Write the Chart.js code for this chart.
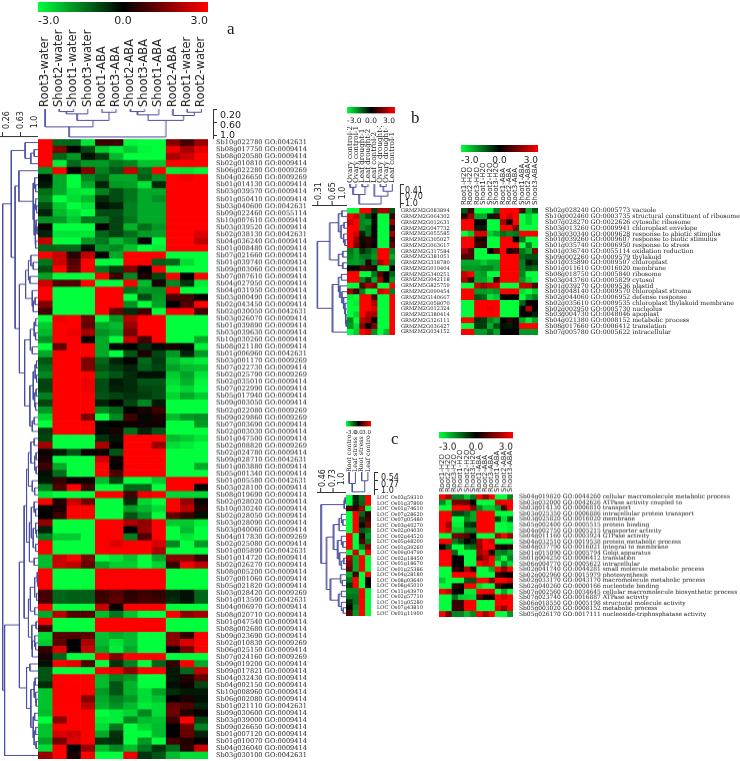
<!DOCTYPE html>
<html lang="en">
<head>
<meta charset="UTF-8">
<title>Heat maps a b c</title>
<script src="https://cdn.jsdelivr.net/npm/chart.js"></script>
<style>
    body { margin: 0; background: #fff; }
    #page { position: relative; width: 740px; height: 761px; overflow: hidden; }
    #page canvas { position: absolute; }
    .note { position: absolute; color: #222; white-space: nowrap; line-height: 1; }
</style>
</head>
<body>
<div id="page"></div>
<script>
const SANS = '"DejaVu Sans", sans-serif';
const SERIF = '"DejaVu Serif", serif';

// panel a
const aCols = ['Root3-water','Shoot2-water','Shoot1-water','Shoot3-water','Root1-ABA','Root3-ABA','Shoot2-ABA','Shoot3-ABA','Shoot1-ABA','Root2-ABA','Root1-water','Root2-water'];
const aGenes = ['Sb10g022780 GO:0042631','Sb08g017750 GO:0009414','Sb08g020580 GO:0009414','Sb02g010810 GO:0009414','Sb06g022280 GO:0009269','Sb04g026650 GO:0009269','Sb01g014130 GO:0009414','Sb03g039570 GO:0009414','Sb01g050410 GO:0009414','Sb03g040600 GO:0042631','Sb09g022460 GO:0055114','Sb10g007610 GO:0009414','Sb03g039520 GO:0009414','Sb02g038130 GO:0042631','Sb04g036240 GO:0009414','Sb01g008480 GO:0009414','Sb07g021660 GO:0009414','Sb01g039740 GO:0009414','Sb09g003060 GO:0009414','Sb07g007610 GO:0009414','Sb04g027950 GO:0009414','Sb04g031950 GO:0009414','Sb03g000490 GO:0009414','Sb02g043450 GO:0009414','Sb02g030050 GO:0042631','Sb03g026070 GO:0009414','Sb01g039890 GO:0009414','Sb03g039630 GO:0009414','Sb10g030260 GO:0009414','Sb08g021180 GO:0009414','Sb01g006960 GO:0042631','Sb03g001170 GO:0009269','Sb07g022730 GO:0009414','Sb02g025790 GO:0009269','Sb02g035010 GO:0009414','Sb07g022990 GO:0009414','Sb05g017940 GO:0009414','Sb09g003050 GO:0009414','Sb02g022080 GO:0009269','Sb09g029860 GO:0009269','Sb07g003690 GO:0009414','Sb02g003030 GO:0009414','Sb01g047500 GO:0009414','Sb02g008820 GO:0009269','Sb02g024780 GO:0009414','Sb09g028710 GO:0042631','Sb01g003880 GO:0009414','Sb05g001340 GO:0009414','Sb01g005580 GO:0042631','Sb03g028100 GO:0009414','Sb08g019690 GO:0009414','Sb02g028020 GO:0009414','Sb10g030240 GO:0009414','Sb02g028050 GO:0009414','Sb03g028090 GO:0009414','Sb03g040060 GO:0009414','Sb04g017830 GO:0009269','Sb02g025080 GO:0009414','Sb01g005890 GO:0042631','Sb01g014720 GO:0009414','Sb02g026270 GO:0009414','Sb08g005200 GO:0009414','Sb07g001060 GO:0009414','Sb05g021820 GO:0009414','Sb03g028420 GO:0009269','Sb01g013590 GO:0042631','Sb04g006970 GO:0009414','Sb08g020710 GO:0009414','Sb01g047540 GO:0009414','Sb08g002680 GO:0009414','Sb09g023690 GO:0009414','Sb02g010830 GO:0009269','Sb06g025150 GO:0009414','Sb07g024160 GO:0009269','Sb09g019200 GO:0009414','Sb09g017821 GO:0009414','Sb04g032430 GO:0009414','Sb04g002150 GO:0009414','Sb10g008960 GO:0009414','Sb06g002080 GO:0009414','Sb01g021110 GO:0042631','Sb09g030600 GO:0009414','Sb03g039000 GO:0009414','Sb09g026650 GO:0009414','Sb01g007120 GO:0009414','Sb01g010070 GO:0009414','Sb04g036040 GO:0009414','Sb03g030100 GO:0042631'];
const aRows = [
[3,-1.2,-1.2,-2.7,.7,.7,-2.9,-3,-3,1.5,.8,1.8],
[3,1.5,0,-.8,-2.4,-2.8,-2.4,-2.9,-3,2.8,2,2.7],
[3,-1.2,-1.8,-.2,-.7,-2.2,-3,-3,-3,2,2.4,3],
[3,-2.8,-1.2,-1.8,-1.8,-1.4,-1.6,-2.3,-2.3,3,3,3],
[-1.7,3,0,1.5,-1.5,-1,2.3,-1.3,3,-2.8,-2.7,-2.9],
[-.1,-2,-3,-1.6,-1.2,-2,-2,-1.1,-1.7,3,2.8,3],
[-.3,-2,-3,-2,-.4,-1.8,-1.9,-2.7,-.5,3,3,3],
[-1.3,-2,-2.7,-2.8,-1.5,-.9,-1.4,-2,-2,3,3,3],
[-1.5,-3,-2.6,-2.2,-.5,-.9,-1.4,-2,-1.7,3,3,3],
[-.9,-2.4,-3,-2.7,-.2,-.4,-1.5,-2,-2,3,3,3],
[-.4,-2.2,-2.6,-3,-.9,-.9,-1.5,-2,-2,3,3,3],
[-1.7,-1.8,-2.4,-1.4,-1.4,-.8,-1.4,-2,-2,3,3,3],
[.1,-3,-3,-3,0,-.8,-2.1,-1.3,-1.8,3,3,3],
[-.4,-2.7,-2.7,-2.7,-1.2,-.8,-1.3,-1.8,-1.9,3,3,2.6],
[2.3,-3,-3,-1.8,-1.4,-2.2,-1.7,0,-3,3,3,2.2],
[-1.2,-1.2,-1.2,-.2,-1.8,-1.6,-2.3,-3,-2.8,3,3,3],
[3,2.4,.5,2.2,0,-2,3,3,3,-3,-3,-3],
[-1.4,2.4,1,3,-3,-3,3,3,-1.1,-1.2,-2.6,-3],
[-.9,3,1.2,3,-1.4,-.7,1.5,0,3,-3,-3,-3],
[-1.9,-3,-3,-3,3,.7,-1.6,.4,-.8,3,0,3],
[2.4,1,1,3,-3,-3,3,-2.2,.3,-1.6,-.6,-2.8],
[3,-3,-3,-3,3,3,-1.3,-1.8,-1.7,3,-3,-3],
[3,-3,-3,-3,3,3,-3,-.9,-1.8,.9,.8,0],
[1.5,-3,-3,-3,3,3,-1.7,-3,-1.9,0,.9,3],
[.8,-3,-3,-3,3,1.2,-.5,.7,-3,3,3,.8],
[-3,2.8,3,1.3,-3,-1.8,2.2,3,3,-3,-3,-3],
[-2.4,3,3,1.2,-2,-2.2,1.8,3,3,-3,-3,-3],
[-2.2,3,2.8,2,-1.7,-2,1.4,3,3,-3,-3,-3],
[-1.7,3,3,.1,-2,-3,2.4,.8,3,-3,-3,-2],
[-3,1.2,3,3,-2,-.1,0,-.5,-.1,.3,-.1,-2.8],
[-2,3,3,3,-2,-3,-1,.4,-.8,-1.8,-.4,-1.8],
[-1,3,3,1.5,-1.2,-.4,0,-1.2,-.7,-2.2,-2.6,-2.8],
[-1.3,3,3,1.5,-1,-.7,-.4,-1.1,-.8,-1.9,-2.2,-2.3],
[-1.6,3,3,3,-1.3,-1,-.5,-.2,-.2,-2.4,-1.9,-2.7],
[-.8,3,3,2.8,-.9,-.3,-.5,-1,-1,-2.6,-2.1,-2.9],
[-.8,3,3,2.8,-.9,-.4,-.5,-.8,-.9,-2.8,-2.5,-3],
[-1.5,3,3,3,-1,-.8,-.6,-.7,-.9,-2.5,-2,-2.4],
[-.8,3,3,3,-.4,0,-.8,-1.6,-.3,-3,-3,-3],
[-1.8,3,3,3,-1.6,-1.2,0,.3,.7,-3,-3,-3],
[-2.5,3,3,1.5,-3,-1.6,.7,-.1,.3,-2.2,-1.8,-1.7],
[-3,3,3,3,-.1,0,.2,.2,.2,-3,-3,-1.8],
[-.7,3,3,3,-.1,.3,-1.3,-.4,-1,-3,-3,-3],
[-.8,-3,-3,-3,-.6,-.2,3,3,3,-2.2,-2.4,-2.7],
[1.9,-3,-3,-3,2,0,3,3,1.8,-2.6,-2.8,-3],
[.1,-.3,-1,.2,.1,-1,3,3,3,-3,-3,-3],
[.3,-3,-3,-3,2.5,.2,3,3,3,-3,-3,-3],
[.7,-2,-3,-3,3,0,3,3,3,-3,-3,-2],
[-.2,-1.3,-3,-3,3,.9,3,3,3,-3,-3,-3],
[-.3,.6,0,.2,-2.2,-.8,-3,-3,-2.4,3,3,3],
[-1.5,.9,3,.8,-3,-3,-1.2,-1.2,-3,3,3,0],
[-2.7,-3,-3,-3,3,3,.8,2.8,3,-2.5,-2.5,-2.5],
[3,.4,2.4,1.4,-3,-3,-.5,-2.5,-3,3,1.8,.2],
[-.1,.3,3,3,-3,-3,-1.8,-2.2,-2.6,3,2.2,.4],
[0,.7,3,3,-3,-3,-1,-1.7,-3,1.2,.7,-.2],
[1.7,-3,-3,-3,3,3,2,1.7,3,-2.4,-2.4,-2.8],
[-.4,-3,-3,-3,3,3,0,1.8,3,-3,-2.2,-3],
[-1.5,-2.4,-2.4,-3,3,3,-1.5,.9,3,-3,-2.7,-3],
[3,-3,-3,-3,3,2.6,3,3,2.5,-1.6,-3,-1.8],
[3,-3,-3,-3,3,3,3,3,2,-3,-3,-3],
[-2.2,2.4,3,1.5,-3,-2.7,-2.3,-3,-2,1.6,1.6,.7],
[-2.2,2.4,2.2,1.2,-2,-2.4,-2.4,-3,-2.5,.7,2.8,2.2],
[3,-3,-3,-3,3,3,3,3,3,-3,-3,-3],
[3,-3,-3,-3,3,3,3,3,3,-3,-3,-3],
[3,-3,-3,-3,3,3,3,3,3,-3,-3,-3],
[.8,-1.2,-1.1,-1.1,.7,1,.5,.7,.6,-.4,-.2,-1.2],
[.8,-1.2,-1.1,-1.1,.7,1.1,.6,.8,.7,-.5,-.2,-1.2],
[3,-3,-3,-3,2.3,.1,3,3,3,-3,-3,-3],
[-2,2.2,1,1,-2.2,-1.4,-2.3,-3,-3,3,1.7,2],
[3,-3,-3,-3,3,3,3,3,3,-3,-3,-3],
[.8,-3,-3,-3,3,3,3,3,3,-3,-3,-3],
[-2.6,1,1,1.1,-2.3,-2,-2.2,-3,-3,1.6,.6,3],
[-2.4,1.1,0,2,-2.2,-2.7,-2.2,-3,-3,1.6,2.6,3],
[.6,2.6,0,2.3,-2,-2.8,-2,-3,-3,.2,1.4,3],
[.3,-1.2,-3,-3,3,1.5,3,3,3,-3,-3,-3],
[-.2,3,2.7,1,-3,-.6,-1.5,-3,-1.2,.6,3,-2],
[-1,-3,-3,-3,3,2.7,1.7,3,3,-.3,-1.2,2.3],
[-1,3,3,3,-2.2,-1.5,-1.8,-3,-3,-.3,.4,1.2],
[-.5,3,3,3,-2.2,-1,-2.1,-3,-3,-.2,.2,-.8],
[-2.3,3,3,3,-1.8,-1,-2.1,-2.6,-1.9,-.5,-.3,-.3],
[-2.3,3,3,1.6,-2,-1.5,-1.8,-2.6,-2.3,0,.3,-.2],
[-2.3,3,3,2.2,-2.1,-1.7,-2.2,-2.8,-2.6,1.2,.9,-.4],
[-2.2,3,3,3,-3,-2.8,-2.5,-1.6,-2.6,1.3,.4,0],
[-3,1.6,3,3,-2.8,-2.8,-1.6,-2.2,-2.3,.7,3,-.8],
[-2.3,3,3,3,-2.6,-1.4,-3,-2.5,-2.2,0,1.3,-1.5],
[-2.3,2.6,2.4,3,-2,-.6,-3,-3,-2.2,0,1.2,-.4],
[-1.9,1.4,2.6,3,-.6,-.5,-3,-1.8,-3,.8,.4,0],
[-2.6,3,0,1.8,-2.2,-1.6,-2.2,-1.4,-.6,-1.3,.5,2.4],
[1.8,3,.3,3,-3,-3,2.8,-.6,-1,-2.2,-2.6,-2.6]
];
// trees: [similarity, upper branch, lower branch], 0 is a leaf
const aTop = [.14,[.45,0,[.65,[.85,[.92,0,0],0],[.9,0,0]]],[.65,[.82,[.92,0,0],0],[.8,0,[.9,0,0]]]];
const aSide = [.26,
  [.44,[.73,0,[.85,[.92,0,0],0]],
    [.52,[.6,0,[.9,[.93,0,[.95,0,0]],[.92,[.95,0,[.97,0,0]],[.94,[.96,0,[.98,0,0]],[.95,0,0]]]]],
      [.61,[.74,[.8,[.85,0,[.9,0,0]],[.83,0,0]],[.88,0,[.9,[.94,0,0],0]]],
        [.72,[.84,[.92,[.95,0,0],[.95,0,0]],[.88,0,0]],
          [.83,[.9,[.94,[.97,0,0],[.97,0,0]],[.93,[.96,0,0],[.95,0,0]]],[.88,[.92,0,0],0]]]]]],
  [.3,[.61,
      [.71,[.76,[.8,[.85,[.92,0,0],[.93,[.96,0,0],[.96,0,0]]],[.88,0,[.93,0,0]]],
          [.82,[.86,[.92,0,[.95,0,0]],[.9,[.95,0,[.97,0,0]],[.95,0,0]]],[.92,0,0]]],
        [.8,[.84,[.93,[.98,0,[.99,0,0]],[.97,0,0]],[.93,0,0]],[.87,[.96,0,0],[.88,[.93,0,[.95,0,0]],0]]]],
      [.76,[.83,0,0],[.85,[.92,[.94,0,0],[.95,0,[.96,0,0]]],[.9,[.93,0,0],[.92,[.95,0,0],[.96,0,0]]]]]],0]];

// panel b
const bLeftCols = ['Ovary control-2','Ovary control-1','Leaf drought-1','Leaf drought-2','Leaf control-2','Ovary drought-2','Ovary drought-1','Leaf control-1'];
const bGenes = ['GRMZM2G083894','GRMZM2G064302','GRMZM2G012631','GRMZM2G047732','GRMZM2G055585','GRMZM2G305027','GRMZM2G063617','GRMZM2G317584','GRMZM2G381051','GRMZM2G318780','GRMZM2G019404','GRMZM2G340251','GRMZM2G042118','GRMZM5G825759','GRMZM2G099454','GRMZM2G140667','GRMZM2G058070','GRMZM2G012324','GRMZM2G380414','GRMZM2G326111','GRMZM2G036427','GRMZM2G034152'];
const bLeftRows = [
[-3,-3,3,3,-.7,2,2,-1],
[3,2.5,-1.6,-.9,0,-3,-3,.6],
[2.4,3,-1.6,-1.8,-.1,-3,-3,1.8],
[3,3,-1.6,-1.3,0,-3,-3,.3],
[3,2.5,-.4,-1.3,0,-3,-3,1.8],
[3,1.8,-.2,.6,.2,-3,-3,.6],
[3,1.5,.1,.5,0,-3,-3,1.2],
[-1.4,-1.9,-.5,-1,-1.6,3,3,-1.5],
[-1.6,-1.9,-1.4,-1.3,-1.8,3,3,-2],
[-1.8,-1.9,-1.6,.3,-1.4,2,2.8,-1.5],
[0,.2,.9,.8,.3,-3,-3,0],
[3,3,-3,-3,-1.4,1,0,-1.2],
[3,3,-1.5,-.6,-2,1.8,0,-1.8],
[-3,-3,1,2,1.5,-3,-3,3],
[1.8,.8,-1.5,-3,-3,2.4,3,-1.5],
[-2.8,-3,3,3,.8,-3,-3,3],
[-3,-2.8,3,3,2,-3,-3,3],
[-3,-3,3,3,2.5,-3,-3,3],
[-3,-2.5,3,2,2,-3,-3,3],
[-1.6,-3,2.2,1.8,.2,-3,-3,3],
[-1.8,-2.6,1.6,0,1.5,-3,-3,3],
[-3,-2.4,3,2.5,-1.7,-3,-2.2,3]
];
const bTop = [.39,[.68,[.9,0,0],[.92,0,0]],[.63,0,[.78,[.92,0,0],0]]];
const bSide = [.31,
  [.6,[.8,[.88,0,0],[.86,[.93,0,0],[.92,0,[.95,0,0]]]],[.8,[.9,0,0],[.9,0,0]]],
  [.66,[.8,[.87,0,0],[.83,0,[.88,0,[.92,0,[.95,0,[.96,0,[.97,0,[.98,0,0]]]]]]]],0]];
const rightCols = ['Root1-H2O','Root2-H2O','Root3-H2O','Shoot1-H2O','Shoot2-H2O','Shoot3-H2O','Root1-ABA','Root2-ABA','Root3-ABA','Shoot1-ABA','Shoot2-ABA','Shoot3-ABA'];
const bTerms = ['Sb02g028240 GO:0005773 vacuole','Sb10g002460 GO:0003735 structural constituent of ribosome','Sb07g028270 GO:0022626 cytosolic ribosome','Sb03g013260 GO:0009941 chloroplast envelope','Sb03g030340 GO:0009628 response to abiotic stimulus','Sb01g039260 GO:0009607 response to biotic stimulus','Sb01g035740 GO:0006950 response to stress','Sb01g036740 GO:0055114 oxidation reduction','Sb09g002260 GO:0009579 thylakoid','Sb01g035890 GO:0009507 chloroplast','Sb01g011610 GO:0016020 membrane','Sb08g018750 GO:0005840 ribosome','Sb03g043760 GO:0005829 cytosol','Sb01g039270 GO:0009536 plastid','Sb01g048140 GO:0009570 chloroplast stroma','Sb02g044060 GO:0006952 defense response','Sb02g035610 GO:0009535 chloroplast thylakoid membrane','Sb02g002950 GO:0005730 nucleolus','Sb03g004730 GO:0048046 apoplast','Sb04g021380 GO:0008152 metabolic process','Sb08g017660 GO:0006412 translation','Sb07g005780 GO:0005622 intracellular'];
const bRightRows = [
[-1,.7,-3,-3,-3,-1.4,3,3,3,.8,-2,-1],
[.5,1.8,-2,-2,-.3,.7,3,2.5,3,-3,-2.5,-3],
[3,3,0,0,-3,-3,2,.2,3,-3,-2.5,-3],
[3,3,-.3,-.3,-3,-3,3,3,1.5,-3,-3,-3],
[-3,-2.4,2.6,2.6,-2.4,-2,-1.3,-1.6,-1.4,3,3,3],
[3,3,.4,.3,-3,-3,3,3,0,-1.4,-3,-3],
[3,3,.7,.6,-3,-3,3,3,3,-3,-1.5,-3],
[2,1,-3,-3,0,1.2,3,.3,.8,-1.4,-2,1.5],
[1,1,-3,-3,-3,-3,3,3,3,-1.2,-1,-1],
[-2,-2,-2,-2.4,-2,-2,3,3,3,-1.5,-.2,-.6],
[-1.8,-1.8,-1.8,-1.6,-1.6,-2,3,3,3,-1.5,-1,-1.2],
[2.4,3,-2,-1.8,-3,-3,3,3,3,-1.5,-3,-3],
[2,.8,-2,-2,-2.6,.9,3,3,3,-1.8,-2.6,-3],
[-3,-3,2.4,1.8,2.4,2.6,-3,-3,-3,2.4,2.2,1],
[3,3,-1.8,-1.8,-2,-1.8,3,3,3,-2.6,-3,-2.4],
[3,3,-1,-1.2,-2.7,-2.4,0,0,0,-3,-2,-1.5],
[-3,-3,3,3,3,3,-3,-3,-3,-1.2,0,0],
[-3,-3,3,3,2.8,3,-3,-3,-3,0,2,0],
[-3,-3,3,3,3,3,-3,-3,-3,0,0,-.4],
[3,3,-.6,-.7,-1.6,-2,0,.6,.2,-2,-2.8,-2],
[-3,-3,-.7,-.7,-2,-1,-.2,-.3,-.1,3,3,3],
[3,3,-1.8,-1.8,-1.2,-2,0,0,0,-1.8,-1.8,-1.8]
];

// panel c
const cLeftCols = ['Root control','Leaf stress','Root stress','Leaf control'];
const cGenes = ['LOC_Os03g59310','LOC_Os01g37800','LOC_Os01g74610','LOC_Os07g28620','LOC_Os07g05480','LOC_Os03g40270','LOC_Os02g04030','LOC_Os02g44520','LOC_Os05g48200','LOC_Os01g39260','LOC_Os09g04790','LOC_Os02g18450','LOC_Os01g18670','LOC_Os01g25386','LOC_Os04g28180','LOC_Os08g03640','LOC_Os08g45010','LOC_Os11g43970','LOC_Os02g57710','LOC_Os11g05280','LOC_Os07g43810','LOC_Os01g11900'];
const cLeftRows = [
[-3,-.4,-1.3,3],[-3,-.4,-1.2,3],[.9,.5,1.8,-3],[-3,3,-1.2,.5],[-3,3,-.6,.9],[-3,3,-.2,1.4],[-3,3,-1,-1.4],
[3,-3,.4,-1.8],[3,-3,1,-1.4],[3,-3,-1.5,1.5],[-3,2.5,-3,3],[2,-2,3,-3],[1.5,-2,3,-3],[1.2,-2,3,-3],
[-2,.8,-3,3],[-1.4,3,-3,0],[-.7,3,-3,0],[-1.6,-1.6,3,-3],[-1.4,-1.4,3,-3],[-.5,-1.3,3,-3],[.1,-1.6,3,-3],[1,-1.8,3,-3]
];
const cTop = [.48,[.7,0,0],[.77,0,0]];
const cSide = [.46,[.96,[.98,0,0],0],
  [.58,[.73,[.85,[.9,0,[.93,0,0]],0],[.82,[.9,0,[.93,0,0]],[.86,0,[.9,[.95,0,0],0]]]],
    [.66,[.88,0,[.92,0,0]],[.84,[.9,0,0],[.9,0,[.94,0,0]]]]]];
const cTerms = ['Sb04g019820 GO:0044260 cellular macromolecule metabolic process','Sb03g032000 GO:0042626 ATPase activity coupled to','Sb03g014130 GO:0006810 transport','Sb03g025350 GO:0006886 intracellular protein transport','Sb03g025820 GO:0016020 membrane','Sb05g002400 GO:0005515 protein binding','Sb04g002750 GO:0005215 transporter activity','Sb04g011160 GO:0003924 GTPase activity','Sb04g032510 GO:0019538 protein metabolic process','Sb04g037790 GO:0016021 integral to membrane','Sb01g015090 GO:0005794 Golgi apparatus','Sb01g004250 GO:0006412 translation','Sb06g004770 GO:0005622 intracellular','Sb02g041740 GO:0044281 small molecule metabolic process','Sb02g002960 GO:0015979 photosynthesis','Sb02g033170 GO:0043170 macromolecule metabolic process','Sb02g040260 GO:0000166 nucleotide binding','Sb07g002560 GO:0034645 cellular macromolecule biosynthetic process','Sb07g023740 GO:0016887 ATPase activity','Sb06g018550 GO:0005198 structural molecule activity','Sb05g003020 GO:0008152 metabolic process','Sb05g026170 GO:0017111 nucleoside-triphosphatase activity'];
const cRightRows = [
[3,2,-1.6,-1.6,-2.4,-1.5,3,1.8,3,-3,-3,-1.6],
[-1.6,-2.8,1.4,1.4,1.2,0,-3,-3,-3,2.6,3,3],
[-3,-3,3,3,3,1.6,-1.6,-2.4,-2.4,-1.8,.8,3],
[3,3,-.8,-.8,-1.2,-2,3,3,3,-3,-3,-3],
[3,3,-3,-3,-1.6,-2,3,3,3,-.8,-2.6,-1],
[3,1.8,-2.8,-2.8,-.8,-.5,3,3,3,-3,-3,-2.8],
[3,2.4,-2.5,-2.5,-1.5,-1.5,3,3,3,-3,-3,-2.8],
[-3,-3,1.4,1.3,1,0,-3,-3,-3,2,3,1.8],
[3,3,-1.4,-.8,0,-.4,2,3,2.6,-3,-3,-3],
[0,-1,-3,-3,-1.4,-1.2,1.8,3,3,.5,0,.6],
[3,3,-1.2,-3,-3,-3,2,2.4,.4,-1.6,-1.4,-2],
[3,3,0,0,-3,-3,1.2,2,3,-2,-3,-1.5],
[3,3,0,0,-3,-3,3,2.5,3,-3,-1.6,-2.5],
[-3,-3,.6,.2,2,.4,-3,-3,-2,3,1.6,3],
[-3,-3,3,3,3,3,-3,-3,-3,.6,.2,0],
[-2.4,-3,-3,-3,-1,-1,3,3,1.5,3,3,2.5],
[-3,-3,.5,.2,3,3,-2.6,-3,-3,1,.2,0],
[3,2.4,0,0,-2.8,-2.8,3,3,2.8,-3,-2,-3],
[-3,-3,-1.3,-2.4,-2.5,-2.6,1,.2,.2,3,2.6,3],
[-3,-3,.7,.7,3,3,-3,-3,-3,3,3,3],
[-3,-3,.7,.7,3,3,-3,-3,-3,2.6,1.6,3],
[3,1.4,-1.6,-1.6,-2.2,-1.6,3,2,3,-3,-3,-1.8]
];

const barTicks = [-3, 0, 3];
const LINE = '#4a4f9e', INK = '#333';

function colour(v) {
    if (v >= 0) return 'rgb(' + Math.round(255 * v / 3) + ',0,0)';
    const k = -v / 3;
    return 'rgb(0,' + Math.round(255 * k) + ',' + Math.round(60 * k) + ')';
}

function addCanvas(left, top, w, h) {
    const c = document.createElement('canvas');
    c.width = w; c.height = h;
    c.style.left = left + 'px'; c.style.top = top + 'px';
    c.style.width = w + 'px'; c.style.height = h + 'px';
    document.getElementById('page').appendChild(c);
    return c;
}

function note(text, x, y, size, rot, family) {
    const d = document.createElement('div');
    d.className = 'note';
    d.textContent = text;
    d.style.left = x + 'px'; d.style.top = y + 'px';
    d.style.fontSize = size + 'px';
    d.style.fontFamily = family || SANS;
    d.style.transform = 'translate(' + (rot ? '-50%' : '0') + ',-50%)' + (rot ? ' rotate(-90deg)' : '');
    document.getElementById('page').appendChild(d);
}

// keep the plot area exact, whatever size the labels ask for
function fixed(size, horizontal) {
    return function(s) {
        s.paddingLeft = s.paddingRight = s.paddingTop = s.paddingBottom = 0;
        if (horizontal) s.height = size; else s.width = size;
    };
}

const base = { responsive: false, animation: false, events: [], plugins: { legend: { display: false }, tooltip: { enabled: false } } };

function heatmap(p, cols, labels, rows) {
    const canvas = addCanvas(p.x, p.y - p.head, p.w + p.side, p.h + p.head);
    new Chart(canvas, {
        type: 'bar',
        data: {
            labels: labels,
            datasets: cols.map((c, j) => ({
                label: c,
                data: rows.map(() => 1),
                backgroundColor: rows.map(r => colour(r[j])),
                borderWidth: 0, barPercentage: 1, categoryPercentage: 1
            }))
        },
        options: Object.assign({}, base, {
            indexAxis: 'y',
            scales: {
                x: {
                    position: 'top', stacked: true, min: 0, max: cols.length,
                    grid: { display: false, drawTicks: false }, border: { display: false },
                    afterBuildTicks: s => { s.ticks = cols.map((c, j) => ({ value: j + 0.5 })); },
                    afterTickToLabelConversion: s => { s.ticks.forEach((t, j) => { t.label = cols[j]; }); },
                    // rotated labels on a top axis sit one line off their tick
                    ticks: { autoSkip: false, minRotation: 90, maxRotation: 90, padding: p.gap, labelOffset: p.colSize * 1.2, color: '#222', font: { family: p.colFamily, size: p.colSize } },
                    afterFit: fixed(p.head, true)
                },
                y: {
                    position: 'right', stacked: true,
                    grid: { display: false, drawTicks: false }, border: { display: false },
                    ticks: { autoSkip: false, padding: p.pad, color: '#222', font: { family: SERIF, size: p.rowSize } },
                    afterFit: fixed(p.side, false)
                }
            }
        })
    });
}

function colourBar(x, y, w, h, size, gap) {
    const canvas = addCanvas(x, y, w, h + gap + size + 3);
    new Chart(canvas, {
        type: 'bar',
        data: {
            labels: [''],
            datasets: [{
                data: [[barTicks[0], barTicks[2]]],
                barPercentage: 1, categoryPercentage: 1,
                backgroundColor: ctx => {
                    const a = ctx.chart.chartArea;
                    if (!a) return '#000';
                    const g = ctx.chart.ctx.createLinearGradient(a.left, 0, a.right, 0);
                    g.addColorStop(0, colour(-3)); g.addColorStop(0.5, colour(0)); g.addColorStop(1, colour(3));
                    return g;
                }
            }]
        },
        options: Object.assign({}, base, {
            indexAxis: 'y',
            scales: {
                x: {
                    min: -3, max: 3,
                    grid: { display: false, drawTicks: false }, border: { display: false },
                    afterBuildTicks: s => { s.ticks = barTicks.map(v => ({ value: v })); },
                    ticks: { autoSkip: false, align: 'inner', padding: gap, maxRotation: 0, color: '#222', font: { family: SANS, size: size }, callback: v => v.toFixed(1) },
                    afterFit: fixed(gap + size + 3, true)
                },
                y: { display: false }
            }
        })
    });
}

// walks a tree, giving the line points of its joins; gaps split the segments
function treePoints(tree, swap) {
    const pts = [];
    let next = 0;
    const put = (pos, sim) => pts.push(swap ? { x: sim, y: pos } : { x: pos, y: sim });
    function walk(n) {
        if (n === 0) return { pos: 0.5 + next++, sim: 1 };
        const a = walk(n[1]), b = walk(n[2]);
        put(a.pos, a.sim); put(a.pos, n[0]); put(b.pos, n[0]); put(b.pos, b.sim);
        pts.push({ x: NaN, y: NaN });
        return { pos: (a.pos + b.pos) / 2, sim: n[0] };
    }
    walk(tree);
    return pts;
}

function treeChart(canvas, tree, swap, xScale, yScale) {
    new Chart(canvas, {
        type: 'scatter',
        data: { datasets: [{ data: treePoints(tree, swap), showLine: true, spanGaps: false, borderColor: LINE, borderWidth: 1, pointRadius: 0, clip: false }] },
        options: Object.assign({}, base, { scales: { x: xScale, y: yScale } })
    });
}

// similarity axis with its bracket, labels are placed as notes
function simAxis(position, min, max, values, size, horizontal) {
    return {
        type: 'linear', position: position, min: min, max: max,
        grid: { drawOnChartArea: false, drawTicks: true, tickLength: 4, color: INK },
        border: { display: true, color: INK },
        ticks: { display: false },
        afterBuildTicks: s => { s.ticks = values.map(v => ({ value: v })); },
        afterFit: fixed(size, horizontal)
    };
}

function topTree(tree, x, y, w, h, n, extra, simMin, values) {
    const canvas = addCanvas(x, y, w + extra + 6, h);
    treeChart(canvas, tree, false,
        { type: 'linear', display: false, min: 0, max: n * (w + extra) / w },
        simAxis('right', simMin, 1, values, 6, false));
}

function sideTree(tree, x, y, w, h, n, rowH, lead, simMin, values) {
    const canvas = addCanvas(x, y - lead - 6, w, h + lead + 6);
    treeChart(canvas, tree, true,
        simAxis('top', simMin, 1, values, 6, true),
        { type: 'linear', display: false, reverse: true, min: -lead / rowH, max: n });
}

// panel a
colourBar(38, 2, 170, 10, 11, 3);
heatmap({ x: 38, y: 139, w: 170, h: 619.5, head: 110, side: 112, gap: 32, pad: 8, colSize: 11.5, colFamily: SANS, rowSize: 6.6 }, aCols, aGenes, aRows);
topTree(aTop, 38, 109, 170, 30, 12, 4.5, 0.077, [0.2, 0.6, 1]);
sideTree(aSide, 0, 139, 38, 619.5, 88, 7.04, 3, 0.2035, [0.26, 0.63, 1]);
note('a', 227, 28, 17, false, '"Liberation Serif", serif');
note('0.26', 7, 120, 8, true); note('0.63', 21, 120, 8, true); note('1.0', 35, 122, 8, true);
note('0.20', 220, 115, 9.5); note('0.60', 220, 124.5, 9.5); note('1.0', 220, 135, 9.5);

// panel b
colourBar(346.7, 107, 48.3, 6.5, 7.5, 3);
heatmap({ x: 346.7, y: 208, w: 48.3, h: 127, head: 82, side: 62, gap: 25, pad: 6, colSize: 7.2, colFamily: SERIF, rowSize: 5.1 }, bLeftCols, bGenes, bLeftRows);
topTree(bTop, 346.7, 184, 48.3, 24, 8, 4.6, 0.27, [0.41, 0.7, 1]);
sideTree(bSide, 312, 208, 34.7, 127, 22, 5.77, 3, 0.183, [0.31, 0.65, 1]);
colourBar(461, 145, 77, 7, 9, 3);
heatmap({ x: 461, y: 208, w: 77, h: 127, head: 50, side: 202, gap: 3, pad: 7, colSize: 7, colFamily: SANS, rowSize: 6.2 }, rightCols, bTerms, bRightRows);
note('b', 411, 117, 17, false, '"Liberation Serif", serif');
note('0.31', 319, 191, 8, true); note('0.65', 333, 191, 8, true); note('1.0', 343, 193, 8, true);
note('0.41', 405, 190.7, 8); note('0.70', 405, 197.3, 8); note('1.0', 405, 204.3, 8);

// panel c
colourBar(345.7, 420.7, 25.3, 6.3, 5.5, 3);
heatmap({ x: 345.7, y: 495, w: 25.3, h: 121, head: 60, side: 56, gap: 23, pad: 6, colSize: 6.3, colFamily: SERIF, rowSize: 5 }, cLeftCols, cGenes, cLeftRows);
topTree(cTop, 345.7, 472, 25.3, 23, 4, 3, 0.398, [0.54, 0.77, 1]);
sideTree(cSide, 317, 495, 28.7, 121, 22, 5.5, 3, 0.371, [0.46, 0.73, 1]);
colourBar(439, 432, 74, 6.5, 9, 3);
heatmap({ x: 439, y: 494, w: 74, h: 122.7, head: 50, side: 227, gap: 2, pad: 6, colSize: 7, colFamily: SANS, rowSize: 5.95 }, rightCols, cTerms, cRightRows);
note('c', 391, 438, 17, false, '"Liberation Serif", serif');
note('0.46', 323, 478, 8, true); note('0.73', 333, 478, 8, true); note('1.0', 342, 479, 8, true);
note('0.54', 381, 478, 8); note('0.77', 381, 484.5, 8); note('1.0', 381, 491, 8);
</script>
</body>
</html>
